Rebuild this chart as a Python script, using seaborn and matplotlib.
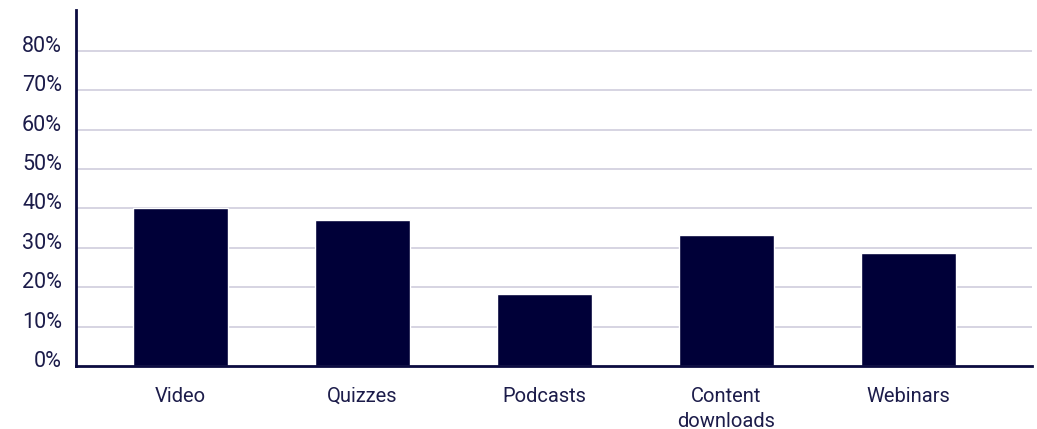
import matplotlib
matplotlib.use("Agg")
import matplotlib.pyplot as plt
import matplotlib.transforms as mtransforms
from matplotlib.ticker import FuncFormatter
import seaborn as sns
import pandas as pd

categories = ["Video", "Quizzes", "Podcasts", "Content\ndownloads", "Webinars"]
shares = [40.0, 37.0, 18.3, 33.3, 28.7]
y_ticks = [0, 10, 20, 30, 40, 50, 60, 70, 80]

bar_color = "#000038"
text_color = "#1c1c4a"
grid_color = "#d6d4e2"
spine_color = "#0b0b40"

sns.set_theme(style="white")
plt.rcParams["font.family"] = ["Roboto", "DejaVu Sans"]

df = pd.DataFrame({"category": categories, "share": shares})

fig = plt.figure(figsize=(10.37, 4.29), dpi=100)
ax = fig.add_axes([76 / 1037, 1 - 366 / 429, (1032 - 76) / 1037, (366 - 10) / 429])

sns.barplot(data=df, x="category", y="share", color=bar_color, saturation=1,
            width=0.52, ax=ax, zorder=3)

ax.set_xlim(-0.574, 4.679)
ax.set_ylim(0, 90.4)
ax.set_yticks(y_ticks)
ax.yaxis.set_major_formatter(FuncFormatter(lambda v, p: f"{v:.0f}%"))

for v in y_ticks[1:]:
    ax.axhline(v, color=grid_color, linewidth=1.4, zorder=1)

for side in ["top", "right"]:
    ax.spines[side].set_visible(False)
for side in ["left", "bottom"]:
    ax.spines[side].set_color(spine_color)
    ax.spines[side].set_linewidth(2.0)
    ax.spines[side].set_zorder(5)

ax.set_xlabel("")
ax.set_ylabel("")
ax.tick_params(axis="both", length=0, labelcolor=text_color)
ax.tick_params(axis="x", pad=15, labelsize=14.5)
ax.tick_params(axis="y", pad=10, labelsize=15.5)

# lift the percentage labels slightly above their gridlines
offset = mtransforms.ScaledTranslation(0, 7 / 100, fig.dpi_scale_trans)
for lbl in ax.get_yticklabels():
    lbl.set_transform(lbl.get_transform() + offset)

for lbl in ax.get_xticklabels():
    lbl.set_linespacing(1.4)

fig.savefig("out.png", dpi=100, facecolor="white")
